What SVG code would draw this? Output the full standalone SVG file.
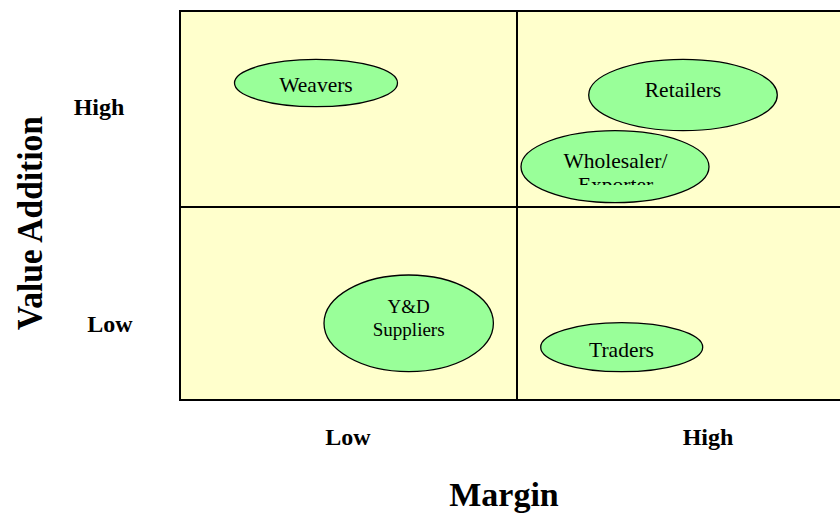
<svg xmlns="http://www.w3.org/2000/svg" width="840" height="514" viewBox="0 0 840 514">
<style>
.grid{fill:#FFFFCC;stroke:#000;stroke-width:2}
.div{stroke:#000;stroke-width:2}
.node{fill:#99FF99;stroke:#000;stroke-width:1.3}
.lbl{font-family:"Liberation Serif","Times New Roman",serif;fill:#000;text-anchor:middle}
.ax{font-family:"Liberation Serif","Times New Roman",serif;font-weight:bold;fill:#000;text-anchor:middle}
</style>
<defs>
<clipPath id="clipW"><rect x="500" y="120" width="230" height="65"/></clipPath>
</defs>
<rect id="background" x="0" y="0" width="840" height="514" fill="#fff"/>
<g id="matrix">
<rect class="grid" x="180" y="11" width="680" height="389"/>
<line class="div" x1="517" y1="11" x2="517" y2="400"/>
<line class="div" x1="180" y1="207" x2="860" y2="207"/>
</g>
<g id="connectors"></g>
<g id="weavers">
<ellipse class="node" cx="316" cy="83" rx="81.5" ry="23.7"/>
<text class="lbl" x="316" y="92" font-size="21.5">Weavers</text>
</g>
<g id="retailers">
<ellipse class="node" cx="683" cy="95" rx="94.3" ry="35.7"/>
<text class="lbl" x="683" y="96.5" font-size="21.5">Retailers</text>
</g>
<g id="wholesaler">
<ellipse class="node" cx="615" cy="166.7" rx="94" ry="36"/>
<g clip-path="url(#clipW)">
<text class="lbl" x="615.5" y="168" font-size="21.5">Wholesaler/</text>
<text class="lbl" x="615.5" y="192" font-size="21.5">Exporter</text>
</g>
</g>
<g id="yd-suppliers">
<ellipse class="node" cx="408.7" cy="323.3" rx="84.7" ry="48.3"/>
<text class="lbl" x="408.7" y="312.5" font-size="19">Y&amp;D</text>
<text class="lbl" x="408.7" y="336" font-size="19">Suppliers</text>
</g>
<g id="traders">
<ellipse class="node" cx="621.7" cy="347.2" rx="81" ry="24.5"/>
<text class="lbl" x="621.5" y="356.5" font-size="21.5">Traders</text>
</g>
<g id="axis-labels">
<text class="ax" x="99" y="115" font-size="24">High</text>
<text class="ax" x="110" y="331.5" font-size="24">Low</text>
<text class="ax" x="348" y="445" font-size="24">Low</text>
<text class="ax" x="708" y="445" font-size="24">High</text>
<text class="ax" x="504" y="506" font-size="34">Margin</text>
<text class="ax" transform="translate(41.5,223) rotate(-90)" font-size="35" textLength="214" lengthAdjust="spacingAndGlyphs" x="0" y="0">Value Addition</text>
</g>
</svg>
